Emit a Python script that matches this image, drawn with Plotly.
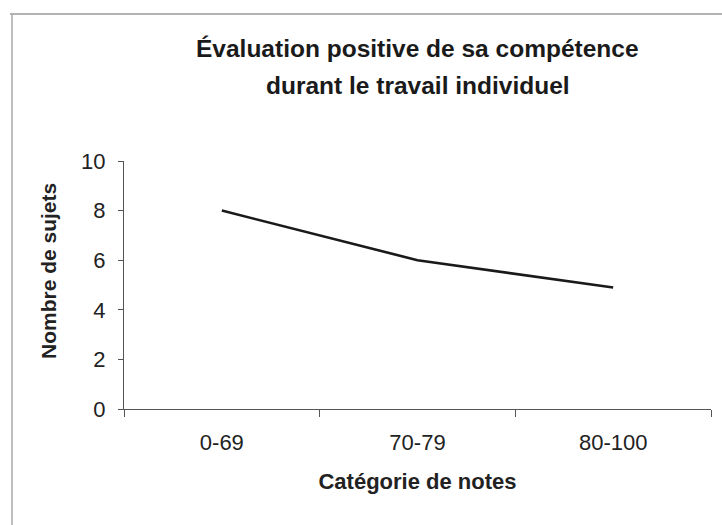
import plotly.graph_objects as go

categories = ["0-69", "70-79", "80-100"]
nombre_sujets = [8, 6, 4.9]
y_ticks = [0, 2, 4, 6, 8, 10]

title_line1 = "Évaluation positive de sa compétence"
title_line2 = "durant le travail individuel"
x_title = "Catégorie de notes"
y_title = "Nombre de sujets"

FONT = "Liberation Sans, Arial, sans-serif"

# plot area pixels: x 124..711, y 161..409
L, R, T, B = 124, 11, 161, 116
PW, PH = 722 - L - R, 525 - T - B

def px(x):
    return (x - L) / PW

def py(y):
    return (525 - B - y) / PH

fig = go.Figure()
fig.add_trace(go.Scatter(
    x=categories, y=nombre_sujets, mode="lines",
    line=dict(color="#1a1a1a", width=2.6),
    showlegend=False, hoverinfo="x+y",
))

fig.update_layout(
    width=722, height=525,
    margin=dict(l=L, r=R, t=T, b=B),
    paper_bgcolor="#ffffff", plot_bgcolor="#ffffff",
    font=dict(family=FONT, color="#222222"),
    showlegend=False,
)

fig.update_xaxes(
    type="category", range=[-0.5, 2.5],
    showline=True, linecolor="#555555", linewidth=1,
    ticks="outside", ticklen=7, tickcolor="#555555", tickwidth=1,
    tickson="boundaries", showgrid=False, zeroline=False,
    tickfont=dict(family=FONT, size=22, color="#222222"),
    ticklabelstandoff=14,
    title=dict(text=f"<b>{x_title}</b>", font=dict(family=FONT, size=22, color="#222222"), standoff=19),
)
fig.update_yaxes(
    range=[0, 10], tickvals=y_ticks,
    showline=True, linecolor="#555555", linewidth=1,
    ticks="outside", ticklen=5, tickcolor="#555555", tickwidth=1,
    showgrid=False, zeroline=False,
    tickfont=dict(family=FONT, size=22, color="#222222"),
    ticklabelstandoff=8,
)

fig.add_annotation(text=f"<b>{y_title}</b>", xref="paper", yref="paper",
                   x=px(48), y=py(271), xanchor="center", yanchor="middle",
                   textangle=-90, showarrow=False,
                   font=dict(family=FONT, size=21, color="#222222"))

fig.add_annotation(text=f"<b>{title_line1}</b>", xref="paper", yref="paper",
                   x=0.5, y=py(49), xanchor="center", yanchor="middle",
                   showarrow=False, font=dict(family=FONT, size=24.5, color="#1a1a1a"))
fig.add_annotation(text=f"<b>{title_line2}</b>", xref="paper", yref="paper",
                   x=0.5, y=py(86), xanchor="center", yanchor="middle",
                   showarrow=False, font=dict(family=FONT, size=24.5, color="#1a1a1a"))

# chart frame lines (top and left edges of the scanned chart box)
fig.add_shape(type="line", xref="paper", yref="paper",
              x0=px(10), x1=px(722), y0=py(14), y1=py(14),
              line=dict(color="#9a9a9a", width=1.5))
fig.add_shape(type="line", xref="paper", yref="paper",
              x0=px(12), x1=px(12), y0=py(14), y1=py(525),
              line=dict(color="#a8a8a8", width=1.5))

fig.write_html("out.html", config={"displayModeBar": False},
               post_script="document.body.style.margin='0';document.body.style.overflow='hidden';")
